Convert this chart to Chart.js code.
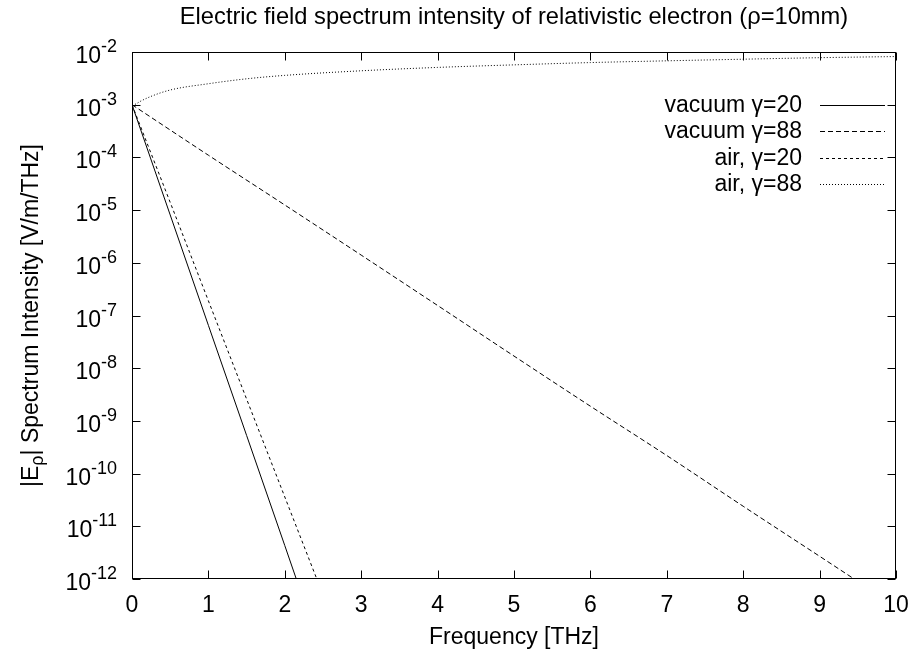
<!DOCTYPE html>
<html>
<head>
<meta charset="utf-8">
<script src="https://cdn.jsdelivr.net/npm/chart.js@4.4.0/dist/chart.umd.min.js"></script>
<style>
  html, body { margin: 0; padding: 0; background: #fff; }
  canvas { display: block; }
</style>
</head>
<body>
<canvas id="spectrum" width="911" height="658"></canvas>
<script>
// tick values
const xTicks = [0, 1, 2, 3, 4, 5, 6, 7, 8, 9, 10];
const yTickExps = [-12, -11, -10, -9, -8, -7, -6, -5, -4, -3, -2];

// series (frequency in THz, |E| in V/m/THz)
const vac20Freq = [0, 0.5, 1, 1.5, 2, 2.2];
const vac20Val  = [1e-3, 8.1e-6, 6.5e-8, 5.3e-10, 4.3e-12, 6.2e-13];

const vac88Freq = [0, 1, 2, 3, 4, 5, 6, 7, 8, 9, 10];
const vac88Val  = [1e-3, 1.1e-4, 1.25e-5, 1.4e-6, 1.55e-7, 1.7e-8, 1.9e-9, 2.2e-10, 2.4e-11, 2.7e-12, 3.0e-13];

const air20Freq = [0, 0.5, 1, 1.5, 2, 2.5];
const air20Val  = [1e-3, 1.4e-5, 1.9e-7, 2.6e-9, 3.6e-11, 5e-13];

const air88Freq = [0, 0.05, 0.1, 0.25, 0.5, 1, 1.5, 2, 3, 4, 5, 6, 7, 8, 9, 10];
const air88Val  = [1e-3, 1.03e-3, 1.14e-3, 1.44e-3, 1.9e-3, 2.5e-3, 3.1e-3, 3.6e-3, 4.4e-3, 5.1e-3, 5.7e-3, 6.3e-3, 6.8e-3, 7.3e-3, 7.8e-3, 8.2e-3];

const FONT = '"Liberation Sans", Arial, Helvetica, sans-serif';

function pts(xs, ys) {
  return xs.map((x, i) => ({ x: x, y: ys[i] }));
}

function series(label, xs, ys, dash) {
  return {
    label: label,
    data: pts(xs, ys),
    borderColor: '#000',
    borderWidth: 1,
    borderDash: dash,
    pointRadius: 0,
    fill: false,
    cubicInterpolationMode: 'monotone'
  };
}

// gnuplot style frame, ticks, labels and key
const gnuplotFrame = {
  id: 'gnuplotFrame',
  afterDatasetsDraw(chart) {
    const ctx = chart.ctx;
    const a = chart.chartArea;
    const xs = chart.scales.x;
    const ys = chart.scales.y;
    const L = Math.round(a.left) + 0.5, R = Math.round(a.right) - 0.5;
    const T = Math.round(a.top) + 0.5, B = Math.round(a.bottom) - 0.5;
    const tick = 8;

    ctx.save();
    ctx.strokeStyle = '#000';
    ctx.fillStyle = '#000';
    ctx.lineWidth = 1;
    ctx.setLineDash([]);
    ctx.strokeRect(L, T, R - L, B - T);

    // x ticks (bottom + mirrored top)
    ctx.beginPath();
    xTicks.forEach(v => {
      const px = Math.round(xs.getPixelForValue(v)) + 0.5;
      ctx.moveTo(px, B); ctx.lineTo(px, B - tick);
      ctx.moveTo(px, T); ctx.lineTo(px, T + tick);
    });
    // y ticks (left + mirrored right)
    yTickExps.forEach(e => {
      const py = Math.round(ys.getPixelForValue(Math.pow(10, e))) + 0.5;
      ctx.moveTo(L, py); ctx.lineTo(L + tick, py);
      ctx.moveTo(R, py); ctx.lineTo(R - tick, py);
    });
    ctx.stroke();

    // x tick labels
    ctx.font = '23px ' + FONT;
    ctx.textAlign = 'center';
    ctx.textBaseline = 'alphabetic';
    xTicks.forEach(v => {
      ctx.fillText(String(v), xs.getPixelForValue(v), a.bottom + 33);
    });

    // y tick labels: 10 with superscript exponent
    const labelEnd = a.left - 15;
    yTickExps.forEach(e => {
      const py = ys.getPixelForValue(Math.pow(10, e));
      ctx.font = '18px ' + FONT;
      const sup = String(e);
      const supW = ctx.measureText(sup).width;
      ctx.textAlign = 'left';
      ctx.fillText(sup, labelEnd - supW, py);
      ctx.font = '23px ' + FONT;
      ctx.textAlign = 'right';
      ctx.fillText('10', labelEnd - supW, py + 11);
    });

    // title
    ctx.font = '23.7px ' + FONT;
    ctx.textAlign = 'center';
    ctx.fillText('Electric field spectrum intensity of relativistic electron (\u03c1=10mm)', (a.left + a.right) / 2, 24);

    // x axis title
    ctx.font = '23px ' + FONT;
    ctx.fillText('Frequency [THz]', (a.left + a.right) / 2, 644);

    // y axis title with subscript rho
    ctx.save();
    ctx.translate(38, (a.top + a.bottom) / 2);
    ctx.rotate(-Math.PI / 2);
    ctx.textAlign = 'left';
    const p1 = '|E', p2 = '\u03c1', p3 = '| Spectrum Intensity [V/m/THz]';
    ctx.font = '23px ' + FONT;
    const w1 = ctx.measureText(p1).width;
    const w3 = ctx.measureText(p3).width;
    ctx.font = '18px ' + FONT;
    const w2 = ctx.measureText(p2).width;
    let cx = -(w1 + w2 + w3) / 2;
    ctx.font = '23px ' + FONT;
    ctx.fillText(p1, cx, 0); cx += w1;
    ctx.font = '18px ' + FONT;
    ctx.fillText(p2, cx, 5); cx += w2;
    ctx.font = '23px ' + FONT;
    ctx.fillText(p3, cx, 0);
    ctx.restore();

    // key: text right aligned, line sample to the right
    ctx.font = '23px ' + FONT;
    ctx.textAlign = 'right';
    ctx.textBaseline = 'middle';
    chart.data.datasets.forEach((ds, i) => {
      const ky = Math.round(105 + i * 26.3);
      ctx.fillText(ds.label, 802, ky + 1);
      ctx.beginPath();
      ctx.setLineDash(ds.borderDash || []);
      ctx.moveTo(820, ky + 0.5);
      ctx.lineTo(885, ky + 0.5);
      ctx.stroke();
    });
    ctx.restore();
  }
};

new Chart(document.getElementById('spectrum'), {
  type: 'line',
  data: {
    datasets: [
      series('vacuum \u03b3=20', vac20Freq, vac20Val, []),
      series('vacuum \u03b3=88', vac88Freq, vac88Val, [5, 3]),
      series('air, \u03b3=20', air20Freq, air20Val, [3, 3]),
      series('air, \u03b3=88', air88Freq, air88Val, [1, 2])
    ]
  },
  options: {
    responsive: false,
    animation: false,
    devicePixelRatio: 1,
    layout: { padding: { left: 132, right: 15, top: 52, bottom: 79 } },
    scales: {
      x: { type: 'linear', min: 0, max: 10, display: false },
      y: { type: 'logarithmic', min: 1e-12, max: 1e-2, display: false }
    },
    plugins: {
      legend: { display: false },
      title: { display: false },
      tooltip: { enabled: false }
    }
  },
  plugins: [gnuplotFrame]
});
</script>
</body>
</html>
